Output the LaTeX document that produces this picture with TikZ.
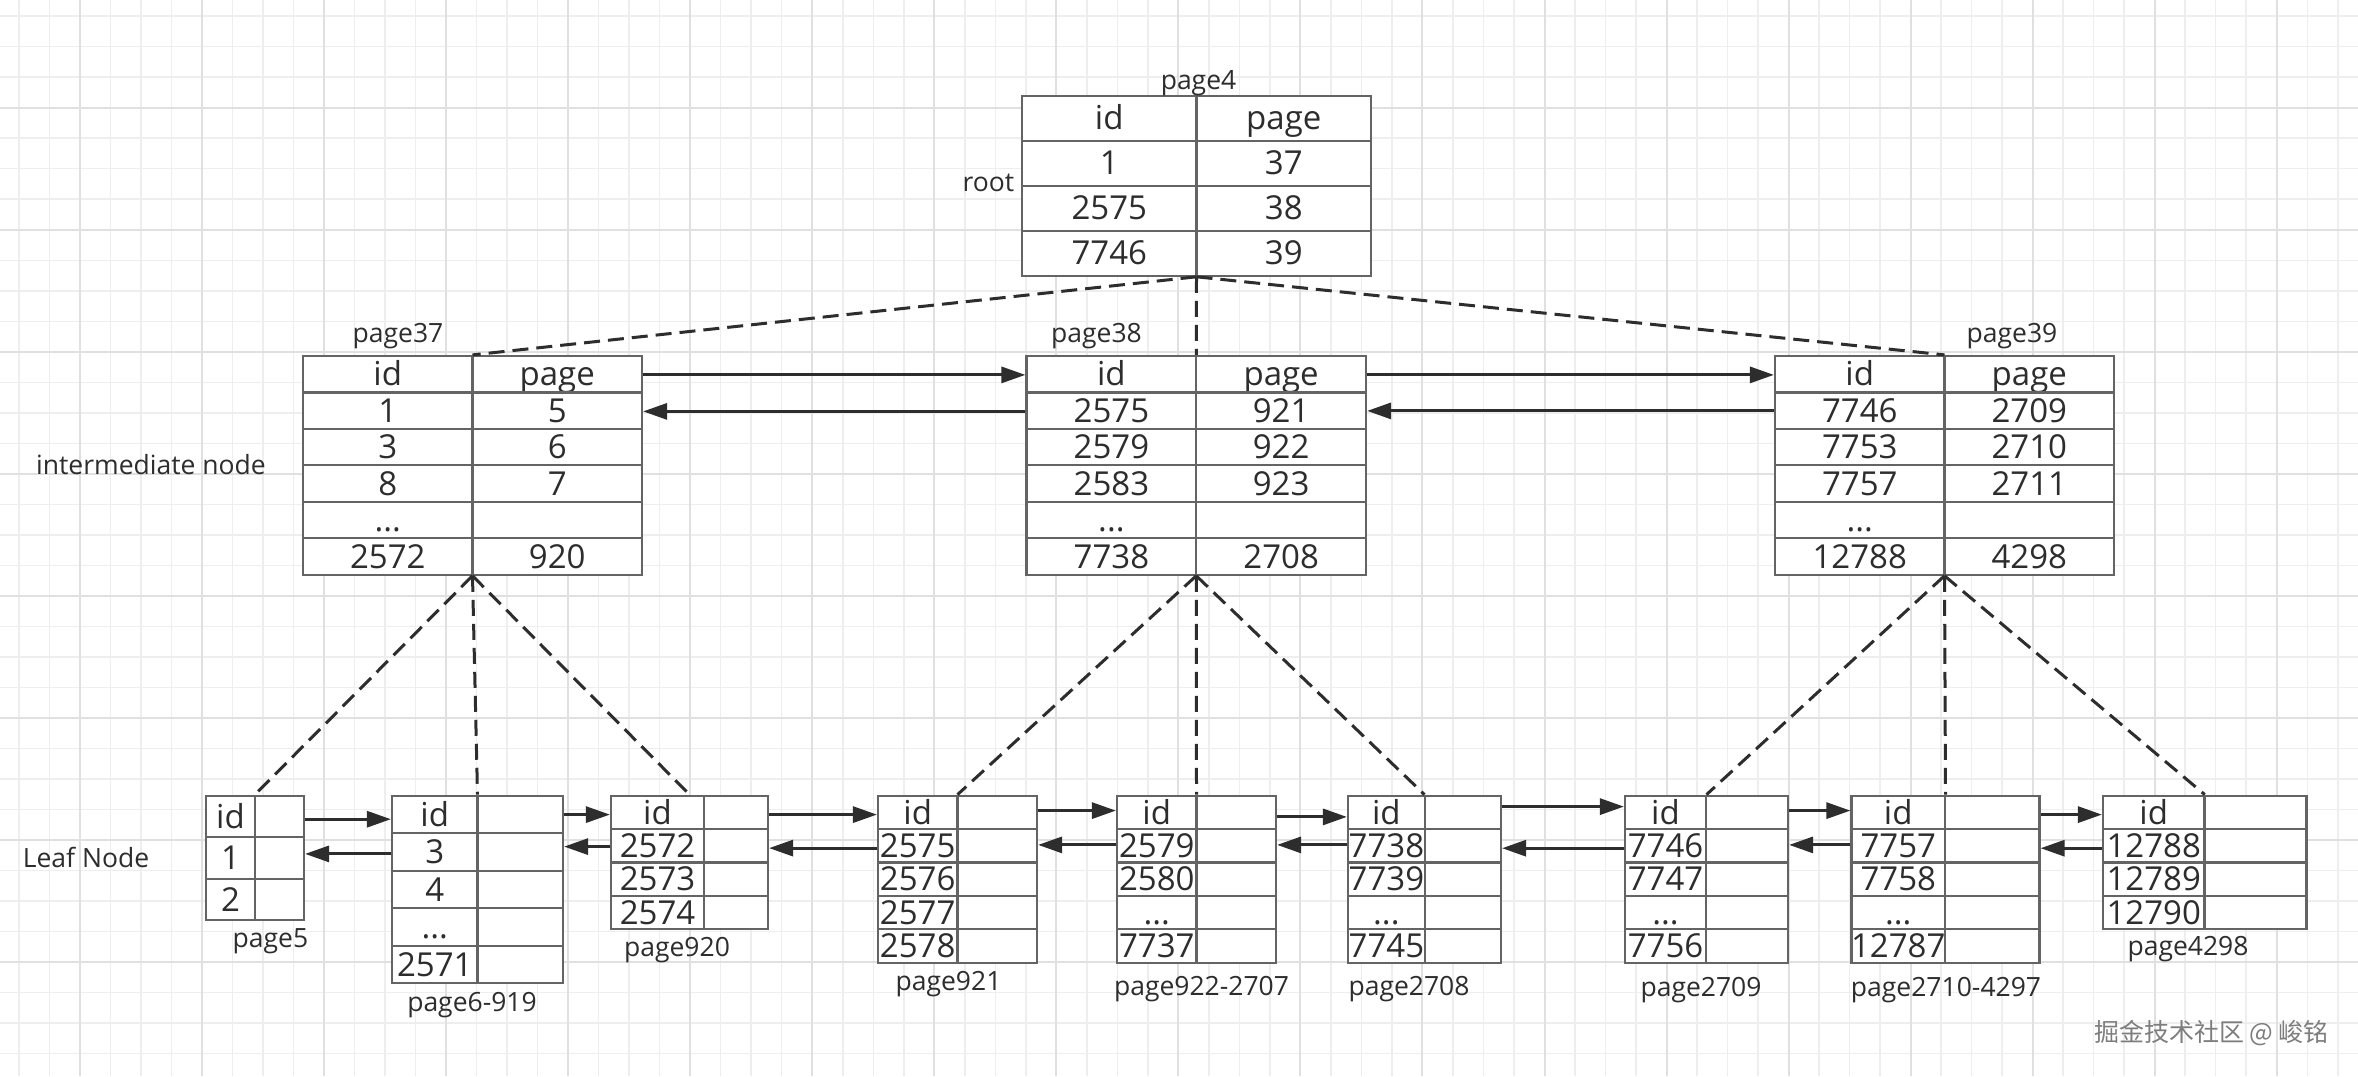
\documentclass[tikz,border=0pt]{standalone}
\usepackage{fontspec}
\setmainfont{Open Sans}
\newfontfamily\cjkfont{Noto Sans CJK SC}
\usetikzlibrary{arrows.meta,calc}
\definecolor{inkgray}{RGB}{45,45,45}
\definecolor{boxgray}{RGB}{100,100,100}
\definecolor{gridminor}{RGB}{238,238,238}
\definecolor{gridmajor}{RGB}{224,224,224}
\definecolor{markgray}{RGB}{125,125,125}

\newcommand{\more}{...}
\newcommand{\treepage}[7]{%
  \foreach \ky [count=\n] in {#7} {\xdef\rowcount{\n}}%
  \node[pagecell, minimum width={(#5-#2)*1pt}, minimum height={#6*\rowcount*1pt}] (#1) at ({(#2+#5)/2},{#3+#6*\rowcount/2}) {};
  \draw[cellline] (#4,#3) -- (#4,{#3+#6*\rowcount});
  \foreach \ky/\vl [count=\rw from 0] in {#7} {%
    \ifnum\rw>0 \draw[cellline] (#2,{#3+#6*\rw}) -- (#5,{#3+#6*\rw});\fi
    \node[celltext] (#1-\rw-k) at ({(#2+#4)/2},{#3+#6*(\rw+0.5)}) {\ky};
    \ifx\vl\empty\else\node[celltext] (#1-\rw-v) at ({(#4+#5)/2},{#3+#6*(\rw+0.5)}) {\vl};\fi
  }%
}

\begin{document}
\begin{tikzpicture}[x=1pt,y=-1pt]
        \tikzstyle{every node}+=[inner sep=0pt]
        \tikzstyle{gminor}=[draw=gridminor, line width=1.5pt]
        \tikzstyle{gmajor}=[draw=gridmajor, line width=2pt]
        \tikzstyle{pagecell}=[draw=boxgray, fill=white, line width=2.2pt]
        \tikzstyle{cellline}=[draw=boxgray, line width=2.2pt]
        \tikzstyle{celltext}=[font=\fontsize{33}{36}\selectfont, text=inkgray, text height=23.5pt, text depth=0pt]
        \tikzstyle{lbl}=[font=\fontsize{26.5}{30}\selectfont, text=inkgray, anchor=base]
        \tikzstyle{link}=[draw=inkgray, line width=3pt, -{Triangle[length=24pt,width=16pt]}]
        \tikzstyle{ptr}=[draw=inkgray, line width=3pt, dash pattern=on 16pt off 8pt]
        \useasboundingbox (0,0) rectangle (2358,1076);
        \fill[white] (0,0) rectangle (2358,1076);
        \foreach \i in {0,...,77} \draw[gminor] ({18.98+30.51*\i},0) -- ++(0,1076);
        \foreach \j in {0,...,35} \draw[gminor] (0,{16.17+30.51*\j}) -- ++(2358,0);
        \foreach \i in {0,...,18} \draw[gmajor] ({80+122.04*\i},0) -- ++(0,1076);
        \foreach \j in {0,...,7} \draw[gmajor] (0,{107.7+122.04*\j}) -- ++(2358,0);

        \treepage{p4}{1022}{95.7}{1196.5}{1371}{45}{id/page,1/37,2575/38,7746/39}
        \treepage{p37}{303}{356}{472.5}{642}{36.45}{id/page,1/5,3/6,8/7,\more/,2572/920}
        \treepage{p38}{1026.5}{356}{1196.3}{1366}{36.45}{id/page,2575/921,2579/922,2583/923,\more/,7738/2708}
        \treepage{p39}{1775}{356}{1944.5}{2114}{36.45}{id/page,7746/2709,7753/2710,7757/2711,\more/,12788/4298}
        \treepage{p5}{206}{795.7}{255}{304}{41.5}{id/,1/,2/}
        \treepage{p6}{392}{795.7}{477.5}{563}{37.5}{id/,3/,4/,\more/,2571/}
        \treepage{p920}{611}{795.7}{704}{768}{33.4}{id/,2572/,2573/,2574/}
        \treepage{p921}{878}{795.7}{957.4}{1037}{33.4}{id/,2575/,2576/,2577/,2578/}
        \treepage{p922}{1117}{795.7}{1196.5}{1276}{33.4}{id/,2579/,2580/,\more/,7737/}
        \treepage{p2708}{1348}{795.7}{1424.7}{1501}{33.4}{id/,7738/,7739/,\more/,7745/}
        \treepage{p2709}{1625}{795.7}{1706}{1788}{33.4}{id/,7746/,7747/,\more/,7756/}
        \treepage{p2710}{1851.5}{795.7}{1945}{2039.5}{33.4}{id/,7757/,7758/,\more/,12787/}
        \treepage{p4298}{2103}{795.7}{2204.5}{2306.5}{33.4}{id/,12788/,12789/,12790/}

        \foreach \a/\b in {p4/p37,p4/p38,p4/p39,p37/p5,p37/p6,p37/p920,p38/p921,p38/p922,p38/p2708,p39/p2709,p39/p2710,p39/p4298}
          \draw[ptr] (\a.south) -- (\b.north);
        \foreach \a/\b/\f/\g in {p37/p38/20/56.5,p38/p39/20/56,p5/p6/24.6/59.3,p6/p920/20/52,p920/p921/20/53.5,p921/p922/16/50.3,p922/p2708/22.3/50.3,p2708/p2709/12/53.6,p2709/p2710/16/50.3,p2710/p4298/20/53.6} {
          \draw[link] ($(\a.north east)+(0,\f)$) coordinate (f) -- (f -| \b.west);
          \draw[link] ($(\b.north west)+(0,\g)$) coordinate (g) -- (g -| \a.east);
        }

        \node[lbl] (l4) at (1198.5,89) {page4};
        \node[lbl] (lroot) at (988.5,191.5) {root};
        \node[lbl] (l37) at (398,342) {page37};
        \node[lbl] (l38) at (1096.5,342) {page38};
        \node[lbl] (l39) at (2012,342) {page39};
        \node[lbl] (linter) at (151,474) {intermediate node};
        \node[lbl] (lleaf) at (86,867) {Leaf Node};
        \node[lbl] (l5) at (270.5,947) {page5};
        \node[lbl] (l6) at (472,1011) {page6-919};
        \node[lbl] (l920) at (677,956.5) {page920};
        \node[lbl] (l921) at (948.5,990) {page921};
        \node[lbl] (l922) at (1201.5,995) {page922-2707};
        \node[lbl] (l2708) at (1409,995) {page2708};
        \node[lbl] (l2709) at (1701,996.5) {page2709};
        \node[lbl] (l2710) at (1946,996.5) {page2710-4297};
        \node[lbl] (l4298) at (2188,955) {page4298};
        \node[font=\cjkfont\fontsize{25}{25}\selectfont, text=markgray] (mark) at (2211.5,1033) {掘金技术社区 @ 峻铭};
\end{tikzpicture}
\end{document}
